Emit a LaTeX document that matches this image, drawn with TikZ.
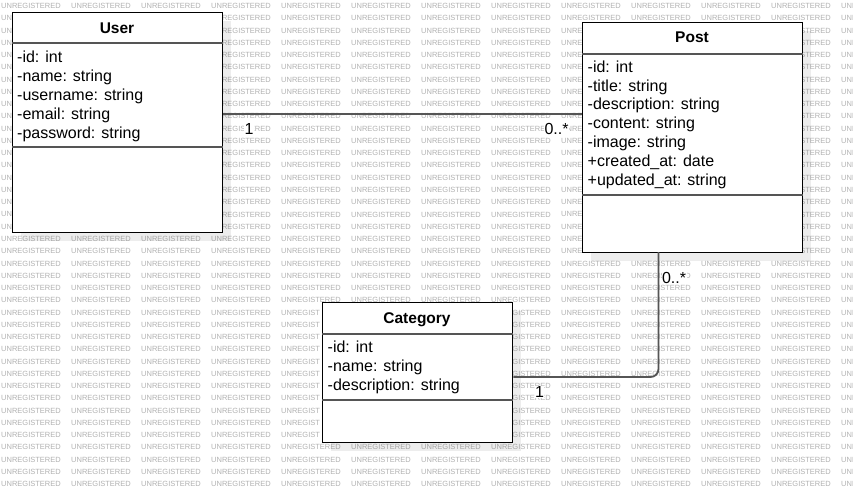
\documentclass[tikz,border=0pt]{standalone}
\usepackage{fontspec}
\setmainfont{Liberation Sans}
\usetikzlibrary{calc,shadows}

\definecolor{wmgray}{HTML}{B2B2B2}
\definecolor{linegray}{HTML}{555555}

\tikzset{
  umlbox/.style={draw=black,line width=1.4pt,fill=white,inner sep=0pt,anchor=north west,
    drop shadow={shadow xshift=8pt,shadow yshift=-8pt,fill=black,opacity=0.07}},
  umltitle/.style={font=\fontsize{15.5}{18}\selectfont\bfseries,inner sep=0pt,anchor=base},
  umlattr/.style={font=\fontsize{16}{19}\selectfont,inner sep=0pt,anchor=base west},
  divider/.style={draw=linegray,line width=2pt},
  assoc/.style={draw=linegray,line width=1.8pt},
  mult/.style={font=\fontsize{16}{19}\selectfont,fill=white,inner sep=0.5pt,anchor=base},
  wm/.style={font=\fontsize{7.5}{8}\selectfont,text=wmgray,inner sep=0pt,anchor=west}
}

\begin{document}
\begin{tikzpicture}[x=1pt,y=-1pt]
\useasboundingbox (0,0) rectangle (853,492);
\clip (0,0) rectangle (853,492);
\fill[white] (0,0) rectangle (853,492);

\foreach \r in {0,...,39}{
  \pgfmathtruncatemacro\inU{and(\r>=1,\r<=18)}
  \pgfmathtruncatemacro\inP{and(\r>=2,\r<=20)}
  \pgfmathtruncatemacro\inC{and(\r>=25,\r<=35)}
  \foreach \c in {0,...,12}{
    \pgfmathtruncatemacro\hit{(\c<4)*\inU+and(\c>3,\c<8)*\inC+and(\c>7,\c<12)*\inP}
    \ifnum\hit=0 \def\wm{UNREGISTERED}\else
      \ifcase\c \def\wm{UN}\or\def\wm{}\or\def\wm{}\or\def\wm{\phantom{UN}REGISTERED}%
      \or\def\wm{UNREGIST}\or\def\wm{}\or\def\wm{}\or\def\wm{\phantom{UNRE}GISTERED}%
      \or\def\wm{UNRE}\or\def\wm{}\or\def\wm{}\or\def\wm{\phantom{UNREGI}STERED}\fi
    \fi
    \node[wm] (wm-\r-\c) at (1+70*\c,6+12.26*\r) {\wm};
  }
}

\node[umlbox,minimum width=210pt,minimum height=220pt] (user) at (12,12) {};
\node[umlbox,minimum width=220pt,minimum height=230pt] (post) at (582,22) {};
\node[umlbox,minimum width=190pt,minimum height=140pt] (category) at (322,302) {};

\draw[divider] (user.west |- 0,43.5) -- (user.east |- 0,43.5);
\draw[divider] (user.west |- 0,147) -- (user.east |- 0,147);
\draw[divider] (post.west |- 0,54) -- (post.east |- 0,54);
\draw[divider] (post.west |- 0,195) -- (post.east |- 0,195);
\draw[divider] (category.west |- 0,333.5) -- (category.east |- 0,333.5);
\draw[divider] (category.west |- 0,399.5) -- (category.east |- 0,399.5);

\node[umltitle] (user-t) at (117,33.3) {User};
\node[umltitle] (post-t) at (692,42.7) {Post};
\node[umltitle] (category-t) at (417,323.3) {Category};

\foreach \a [count=\i from 0] in {{-id: int},{-name: string},{-username: string},{-email: string},{-password: string}}
  \node[umlattr] (user-a\i) at (17,62.7+18.85*\i) {\a};
\foreach \a [count=\i from 0] in {{-id: int},{-title: string},{-description: string},{-content: string},{-image: string},{+created\_at: date},{+updated\_at: string}}
  \node[umlattr] (post-a\i) at (587.5,72.3+18.8*\i) {\a};
\foreach \a [count=\i from 0] in {{-id: int},{-name: string},{-description: string}}
  \node[umlattr] (category-a\i) at (327.5,352.7+18.7*\i) {\a};

\coordinate (u1) at (user.east |- 0,114);
\coordinate (p1) at (658.5,252);
\coordinate (c1) at (category.east |- 0,377);
\draw[assoc] (u1) -- (u1 -| post.west);
\draw[assoc,rounded corners=8pt] (p1) |- (c1);

\node[mult] (m1) at (249,135) {1};
\node[mult] (m2) at (556.5,135) {0..*};
\node[mult] (m3) at (674,283.3) {0..*};
\node[mult] (m4) at (539.5,397.3) {1};
\end{tikzpicture}
\end{document}
